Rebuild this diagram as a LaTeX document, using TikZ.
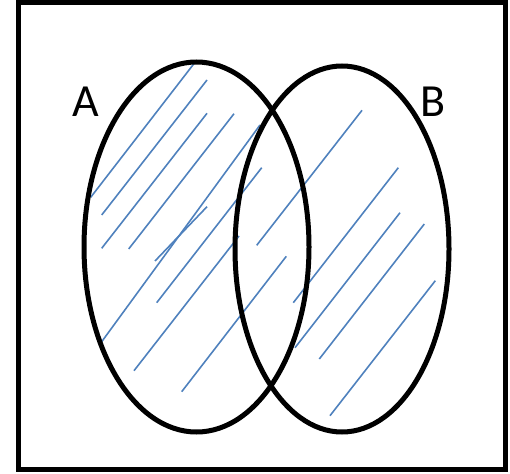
\documentclass[tikz,border=0pt]{standalone}
\usepackage{fontspec}
\setmainfont{Carlito}
\usetikzlibrary{shapes.geometric}
\definecolor{hatchblue}{HTML}{4F81BD}
\tikzset{
  setoval/.style={draw=black, line width=5pt, ellipse, inner sep=0pt},
  setlabel/.style={inner sep=0pt, font=\fontsize{46}{46}\selectfont},
  hatch/.style={draw=hatchblue, line width=1.6pt},
  frame/.style={draw=black, line width=5.5pt}
}
\begin{document}
\begin{tikzpicture}[x=1pt,y=-1pt]
\useasboundingbox (0,0) rectangle (510,473);
\draw[frame] (18.7,2.7) rectangle (505.5,469.5);
% hatching
\draw[hatch] (196,61) -- (90.7,197.3);
\draw[hatch] (207,80) -- (101.7,215);
\draw[hatch] (207,113.3) -- (101.7,248.3);
\draw[hatch] (234,113.7) -- (128.7,249);
\draw[hatch] (260,125) -- (101.7,341.7);
\draw[hatch] (207,206.7) -- (155,261);
\draw[hatch] (261.7,167.7) -- (156.7,302.7);
\draw[hatch] (239,236) -- (134,370.7);
\draw[hatch] (286.3,256.3) -- (181.7,391.7);
\draw[hatch] (362,110.3) -- (256.7,245.3);
\draw[hatch] (398.3,167.7) -- (293.3,302.7);
\draw[hatch] (400,212.7) -- (295,347.7);
\draw[hatch] (424.3,224) -- (319.3,359);
\draw[hatch] (435.3,280.7) -- (330,415.7);
% sets
\node[setoval, minimum width=225pt, minimum height=370pt] (A) at (196.5,247) {};
\node[setoval, minimum width=214pt, minimum height=366pt] (B) at (342,249) {};
\node[setlabel] (la) at (86,102) {A};
\node[setlabel] (lb) at (433.5,102) {B};
\end{tikzpicture}
\end{document}
